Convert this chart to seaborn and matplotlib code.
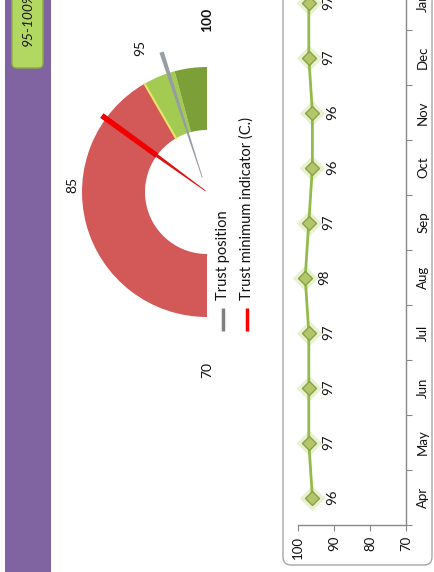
import numpy as np
import pandas as pd
import matplotlib
matplotlib.use("Agg")
import matplotlib.pyplot as plt
from matplotlib.patches import Wedge, Rectangle, FancyBboxPatch, Polygon
import seaborn as sns

# ---------------- data ----------------
months = ["Apr", "May", "Jun", "Jul", "Aug", "Sep", "Oct", "Nov", "Dec", "Jan"]
trust_values = [96, 97, 97, 97, 98, 97, 96, 96, 97, 97]
value_ticks = [100, 90, 80, 70]

gauge_min, gauge_max = 70, 100
band_edges = [70, 95, 97.5, 100]
band_colors = ["#d35858", "#a3cb52", "#7d9f38"]
gauge_labels = ["70", "85", "95", "100"]
trust_position = 97
trust_minimum = 91
badge_text = "95-100%"
legend_labels = ["Trust position", "Trust minimum indicator (C.)"]
legend_colors = ["#808080", "#ff0000"]

# ---------------- style ----------------
sns.set_style("white")
plt.rcParams["font.family"] = ["Lato", "DejaVu Sans"]

W, H = 434, 572
fig = plt.figure(figsize=(W / 100, H / 100), dpi=100)

# overlay axes in pixel coords (y up)
ov = fig.add_axes([0, 0, 1, 1])
ov.set_xlim(0, W)
ov.set_ylim(0, H)
ov.axis("off")
ov.patch.set_alpha(0)

def Y(y):
    return H - y

# purple band + badge
ov.add_patch(Rectangle((5, Y(572)), 46, 572, color="#8064a2", lw=0))
ov.add_patch(FancyBboxPatch((12, Y(68)), 31, 90, boxstyle="round,pad=0,rounding_size=5",
                            fc="#b3d862", ec="#8cae45", lw=1))
ov.text(28, Y(46), badge_text, rotation=90, ha="center", va="bottom",
        fontsize=10, style="italic", color="#1a1a1a")

# gauge
cx, cy = 207, Y(192)
r_out, r_in = 125, 62

def ang(v):
    return 270 - (v - gauge_min) / (gauge_max - gauge_min) * 180.0

for v0, v1, c in zip(band_edges[:-1], band_edges[1:], band_colors):
    ov.add_patch(Wedge((cx, cy), r_out, ang(v1), ang(v0), width=r_out - r_in,
                       fc=c, ec="none", lw=0))

def pt(v, r):
    a = np.deg2rad(ang(v))
    return cx + r * np.cos(a), cy + r * np.sin(a)

# yellow separator at 95
p0, p1 = pt(band_edges[1], r_in), pt(band_edges[1], r_out)
ov.plot([p0[0], p1[0]], [p0[1], p1[1]], color="#e9e46a", lw=1.5)

def needle(v, r0, r1, w0, w1, color, z=5):
    a = np.deg2rad(ang(v))
    d = np.array([np.cos(a), np.sin(a)])
    n = np.array([-d[1], d[0]])
    c = np.array([cx, cy])
    pts = [c + d * r0 + n * w0, c + d * r1 + n * w1,
           c + d * r1 - n * w1, c + d * r0 - n * w0]
    ov.add_patch(Polygon(pts, closed=True, fc=color, ec="none", zorder=z))

# trust minimum (red)
needle(trust_minimum, 2, r_in, 0.4, 1.6, "#e01010")
needle(trust_minimum, r_in, 130, 2.6, 2.8, "#f00000")
# trust position (grey)
needle(trust_position, 15, 147, 0.4, 2.2, "#979da2", z=6)

# gauge labels
label_pos = [(207, 370), (72, 185), (140, 48), (207, 20)]
for (lx, ly), t in zip(label_pos, gauge_labels):
    ov.text(lx, Y(ly), t, rotation=90, ha="center", va="center", fontsize=10,
            fontweight="bold" if t == "100" else "normal", color="#111111")

# legend
for i, (lab, col) in enumerate(zip(legend_labels, legend_colors)):
    lx = 223 + i * 24
    ov.plot([lx, lx], [Y(331), Y(308)], color=col, lw=2.5, solid_capstyle="butt")
    ov.text(lx, Y(300), lab, rotation=90, ha="center", va="bottom",
            fontsize=10.5, color="#111111")

# rounded border around line chart
ov.add_patch(FancyBboxPatch((283, Y(565)), 149, 600, boxstyle="round,pad=0,rounding_size=8",
                            fc="none", ec="#a6a6a6", lw=1))

# ---------------- line chart ----------------
x0, x1 = 298, 406
ybot = 525
step = 55
ax = fig.add_axes([x0 / W, (H - ybot) / H, (x1 - x0) / W, ybot / H])
ax.patch.set_alpha(0)

df = pd.DataFrame({"month": months, "value": trust_values, "pos": np.arange(len(months))})

# glow under markers
ax.scatter(df["value"], df["pos"], s=170, marker="D", color="#d8e8b0", alpha=0.6,
           lw=0, zorder=2, clip_on=False)
sns.lineplot(data=df, x="value", y="pos", orient="y", sort=False, estimator=None,
             color="#92bb4c", lw=2, marker="D", markersize=7,
             markerfacecolor="#b3c76a", markeredgecolor="#8aa045", markeredgewidth=1,
             ax=ax, zorder=3)

for v, p in zip(df["value"], df["pos"]):
    ax.annotate(str(v), (v, p), xytext=(14, 0), textcoords="offset points",
                rotation=90, ha="center", va="center", fontsize=9.5, color="#111111")

ax.set_xticks(value_ticks)
ax.set_xticklabels([str(t) for t in value_ticks], rotation=90, fontsize=9.5)
ax.set_yticks(df["pos"])
ax.set_yticklabels(months, rotation=90, va="center", fontsize=9.5)
ax.set_yticks(np.arange(-0.5, len(months) + 0.5, 1), minor=True)
ax.set_xlim(100, 70)
ax.set_ylim(-0.5, -0.5 + ybot / step)
ax.yaxis.tick_right()
ax.tick_params(axis="y", which="major", length=0, pad=8, colors="#111111")
ax.tick_params(axis="y", which="minor", length=4, width=0.8, color="#888888", right=True, left=False)
ax.tick_params(axis="x", which="major", length=4, width=0.8, color="#888888", pad=4,
               labelcolor="#111111", bottom=True)
ax.set_xlabel("")
ax.set_ylabel("")
for s in ["top", "left"]:
    ax.spines[s].set_visible(False)
for s in ["bottom", "right"]:
    ax.spines[s].set_visible(True)
    ax.spines[s].set_color("#888888")
    ax.spines[s].set_linewidth(1)
if ax.get_legend():
    ax.get_legend().remove()

fig.savefig("out.png", dpi=100)
